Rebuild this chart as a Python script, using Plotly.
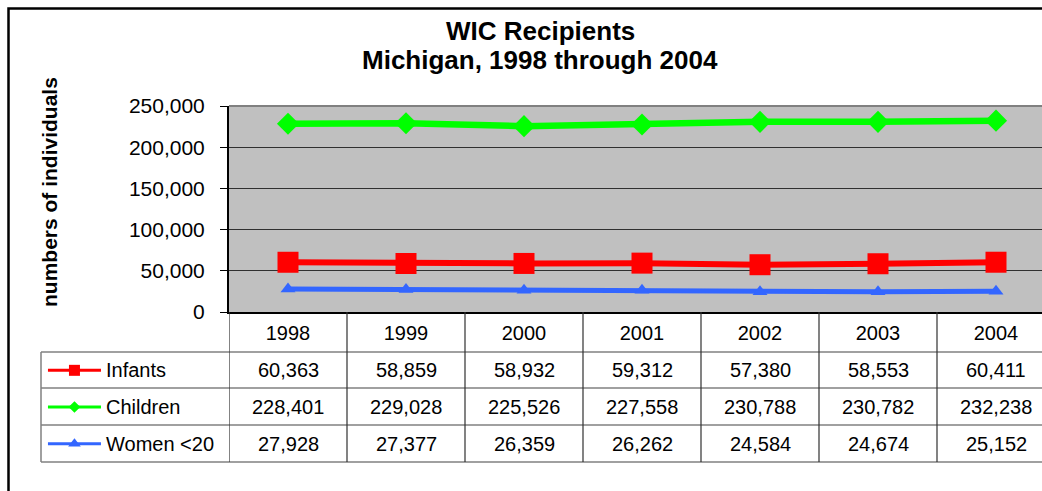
import plotly.graph_objects as go

# ---------------- data ----------------
years = ["1998", "1999", "2000", "2001", "2002", "2003", "2004"]
infants = [60363, 58859, 58932, 59312, 57380, 58553, 60411]
children = [228401, 229028, 225526, 227558, 230788, 230782, 232238]
women_u20 = [27928, 27377, 26359, 26262, 24584, 24674, 25152]
series_names = ["Infants", "Children", "Women <20"]
y_tick_values = [0, 50000, 100000, 150000, 200000, 250000]
title_lines = ["WIC Recipients", "Michigan, 1998 through 2004"]
y_title = "numbers of individuals"

# ---------------- layout constants ----------------
W, H = 1042, 491
FONT = "Liberation Sans, Arial, sans-serif"
PLOT_L, PLOT_T, PLOT_B = 229, 106, 312
COL_W = 118
ROW_EDGES = [312, 352, 388, 425, 462]   # header row + 3 data rows
KEY_L = 41
TITLE_Y = [31, 60]

def px_x(p):
    return p / W

def px_y(p):
    return (H - p) / H

series_data = [infants, children, women_u20]
series_style = [
    dict(color="#FF0000", symbol="square", size=21, width=6, key_size=11),
    dict(color="#00FF00", symbol="diamond", size=17, width=6.5, key_size=9),
    dict(color="#3366FF", symbol="triangle-up", size=13, width=5, key_size=11),
]

fig = go.Figure()

for name, vals, st in zip(series_names, series_data, series_style):
    fig.add_trace(go.Scatter(
        x=years, y=vals, name=name, mode="lines+markers",
        line=dict(color=st["color"], width=st["width"]),
        marker=dict(symbol=st["symbol"], size=st["size"], color=st["color"]),
        showlegend=False, xaxis="x", yaxis="y",
    ))

# legend keys inside the data table (helper axis over the key column)
for i, (name, st) in enumerate(zip(series_names, series_style)):
    fig.add_trace(go.Scatter(
        x=[0.037, 0.319], y=[i + 0.5, i + 0.5], mode="lines",
        line=dict(color=st["color"], width=3),
        showlegend=False, hoverinfo="skip", xaxis="x2", yaxis="y2",
    ))
    fig.add_trace(go.Scatter(
        x=[0.178], y=[i + 0.5], mode="markers",
        marker=dict(symbol=st["symbol"], size=st["key_size"], color=st["color"]),
        showlegend=False, hoverinfo="skip", xaxis="x2", yaxis="y2",
    ))

shapes = []
# plot area background
shapes.append(dict(type="rect", xref="x domain", yref="y domain", x0=0, x1=1, y0=0, y1=1,
                   fillcolor="#C0C0C0", line=dict(width=0), layer="below"))
# top border of plot area
shapes.append(dict(type="line", xref="x domain", yref="y domain", x0=0, x1=1, y0=1, y1=1,
                   line=dict(color="#808080", width=2)))
# outer chart border
shapes.append(dict(type="rect", xref="paper", yref="paper", x0=px_x(8.5), x1=1.2,
                   y0=-0.2, y1=px_y(8.5), line=dict(color="#000000", width=2.5),
                   fillcolor="rgba(0,0,0,0)"))
# table horizontal lines
for r in ROW_EDGES[1:]:
    shapes.append(dict(type="line", xref="paper", yref="paper", x0=px_x(KEY_L), x1=1.0,
                       y0=px_y(r), y1=px_y(r), line=dict(color="#808080", width=1.5)))
# table vertical lines (category boundaries)
for k in range(len(years)):
    shapes.append(dict(type="line", xref="x", yref="paper", x0=k - 0.5, x1=k - 0.5,
                       y0=px_y(ROW_EDGES[0]), y1=px_y(ROW_EDGES[-1]),
                       line=dict(color="#303030", width=1.2)))
# key column left border
shapes.append(dict(type="line", xref="paper", yref="paper", x0=px_x(KEY_L), x1=px_x(KEY_L),
                   y0=px_y(ROW_EDGES[1]), y1=px_y(ROW_EDGES[-1]),
                   line=dict(color="#808080", width=1.5)))

annotations = []
# table values
for i, vals in enumerate(series_data):
    yc = (ROW_EDGES[i + 1] + ROW_EDGES[i + 2]) / 2
    for k, v in enumerate(vals):
        annotations.append(dict(x=k, y=px_y(yc), xref="x", yref="paper",
                                text=f"{v:,}", showarrow=False,
                                font=dict(family=FONT, size=20, color="#000000"),
                                xanchor="center", yanchor="middle"))
    annotations.append(dict(x=px_x(104), y=px_y(yc), xref="paper", yref="paper",
                            text=series_names[i], showarrow=False,
                            font=dict(family=FONT, size=20, color="#000000"),
                            xanchor="left", yanchor="middle"))
# y axis title
annotations.append(dict(x=px_x(49), y=px_y(192), xref="paper", yref="paper",
                        text=f"<b>{y_title}</b>", textangle=-90, showarrow=False,
                        font=dict(family=FONT, size=21, color="#000000"),
                        xanchor="center", yanchor="middle"))
# chart title (two lines)
for line, ty in zip(title_lines, TITLE_Y):
    annotations.append(dict(x=540 / W, y=px_y(ty), xref="paper", yref="paper",
                            text=f"<b>{line}</b>", showarrow=False,
                            font=dict(family=FONT, size=26, color="#000000"),
                            xanchor="center", yanchor="middle"))

fig.update_layout(
    width=W, height=H,
    margin=dict(l=0, r=0, t=0, b=0, pad=0, autoexpand=False),
    paper_bgcolor="#FFFFFF", plot_bgcolor="rgba(0,0,0,0)",
    font=dict(family=FONT, size=20, color="#000000"),
    showlegend=False,
    xaxis=dict(domain=[px_x(PLOT_L), 1.0], type="category",
               range=[-0.5, -0.5 + (W - PLOT_L) / COL_W],
               showline=True, linecolor="#000000", linewidth=2,
               ticks="", showgrid=False, zeroline=False,
               tickfont=dict(family=FONT, size=20, color="#000000"),
               ticklabelstandoff=2, anchor="y", automargin=False),
    yaxis=dict(domain=[px_y(PLOT_B), px_y(PLOT_T)], range=[0, 250000],
               tickvals=y_tick_values, tickformat=",",
               showline=True, linecolor="#000000", linewidth=2,
               ticks="outside", ticklen=7, tickcolor="#000000", tickwidth=1,
               showgrid=True, gridcolor="#303030", gridwidth=1, zeroline=False,
               tickfont=dict(family=FONT, size=21, color="#000000"),
               ticklabelstandoff=11, anchor="x", automargin=False),
    xaxis2=dict(domain=[px_x(KEY_L), px_x(PLOT_L)], range=[0, 1], visible=False,
                anchor="y2", fixedrange=True, automargin=False),
    yaxis2=dict(domain=[px_y(ROW_EDGES[-1]), px_y(ROW_EDGES[1])], range=[3, 0],
                visible=False, anchor="x2", fixedrange=True, automargin=False),
    shapes=shapes,
    annotations=annotations,
)

fig.write_html(
    "out.html",
    config={"displayModeBar": False},
    post_script="document.body.style.margin='0';document.body.style.overflow='hidden';",
)
